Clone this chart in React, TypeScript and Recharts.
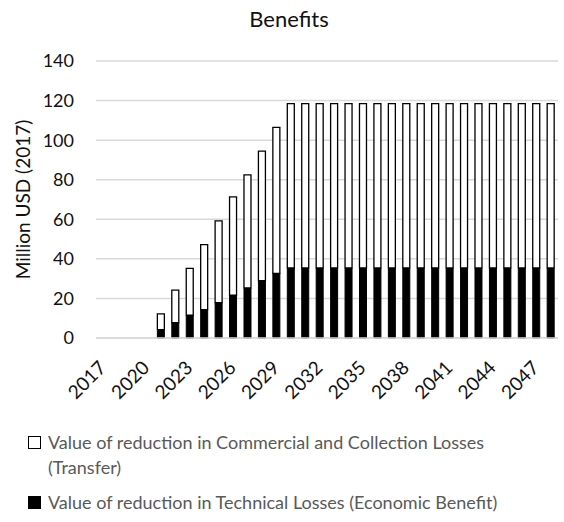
import React from "react";
import { BarChart, Bar, XAxis, YAxis, CartesianGrid } from "recharts";

// Yearly benefit series, million USD (2017)
const years = [
  "2017", "2018", "2019", "2020", "2021", "2022", "2023", "2024",
  "2025", "2026", "2027", "2028", "2029", "2030", "2031", "2032",
  "2033", "2034", "2035", "2036", "2037", "2038", "2039", "2040",
  "2041", "2042", "2043", "2044", "2045", "2046", "2047", "2048",
];

const technical = [
  0, 0, 0, 0, 4.2, 7.8, 11.6, 14.3,
  17.9, 21.6, 25.3, 29.0, 32.7, 35.4, 35.4, 35.4,
  35.4, 35.4, 35.4, 35.4, 35.4, 35.4, 35.4, 35.4,
  35.4, 35.4, 35.4, 35.4, 35.4, 35.4, 35.4, 35.4,
];

const commercial = [
  0, 0, 0, 0, 8.0, 16.4, 23.6, 32.9,
  41.3, 49.7, 57.1, 65.5, 73.8, 83.1, 83.1, 83.1,
  83.1, 83.1, 83.1, 83.1, 83.1, 83.1, 83.1, 83.1,
  83.1, 83.1, 83.1, 83.1, 83.1, 83.1, 83.1, 83.1,
];

const yTicks = [0, 20, 40, 60, 80, 100, 120, 140];

const FONT = "Lato, 'Open Sans', sans-serif";

const chartData = years.map((year, i) => ({
  year,
  technical: technical[i],
  commercial: commercial[i],
}));

// rotated year labels, anchored at their end below each tick
function YearTick({ x, y, payload }: any) {
  const tx = x + 4;
  const ty = y + 31;
  return (
    <text
      x={tx}
      y={ty}
      textAnchor="end"
      transform={`rotate(-45, ${tx}, ${ty})`}
      fontSize={19}
      fontFamily={FONT}
      fill="#111"
    >
      {payload.value}
    </text>
  );
}

function LegendItem({ filled, children }: { filled: boolean; children: React.ReactNode }) {
  return (
    <div style={{ display: "flex", alignItems: "flex-start" }}>
      <span
        style={{
          width: 13,
          height: 13,
          marginTop: 6,
          marginRight: 7,
          flex: "none",
          boxSizing: "border-box",
          border: "1.5px solid #000",
          background: filled ? "#000" : "#fff",
        }}
      />
      <span>{children}</span>
    </div>
  );
}

export default function App() {
  return (
    <div
      style={{
        position: "absolute",
        left: 0,
        top: 0,
        width: 564,
        height: 522,
        background: "#fff",
        fontFamily: FONT,
      }}
    >
      <div
        style={{
          position: "absolute",
          top: 6,
          left: 0,
          width: 578,
          textAlign: "center",
          fontSize: 22,
          lineHeight: "26px",
          color: "#111",
        }}
      >
        Benefits
      </div>

      <BarChart
        width={564}
        height={522}
        data={chartData}
        margin={{ top: 61, right: 6, left: 0, bottom: 154 }}
        barCategoryGap="25%"
      >
        <CartesianGrid vertical={false} stroke="#d9d9d9" strokeWidth={1.5} />
        <XAxis
          dataKey="year"
          height={30}
          interval={2}
          tickLine={false}
          tickSize={0}
          tickMargin={0}
          axisLine={{ stroke: "#d9d9d9", strokeWidth: 1.5 }}
          tick={<YearTick />}
        />
        <YAxis
          width={96}
          domain={[0, 140]}
          ticks={yTicks}
          axisLine={false}
          tickLine={false}
          tickMargin={16}
          tick={{ fontSize: 18, fontFamily: FONT, fill: "#111" }}
          label={{
            value: "Million USD (2017)",
            angle: -90,
            position: "insideLeft",
            offset: 23,
            style: { fontSize: 19, fontFamily: FONT, fill: "#111", textAnchor: "middle" },
          }}
        />
        <Bar
          dataKey="technical"
          stackId="benefit"
          fill="#000"
          stroke="#000"
          strokeWidth={1}
          isAnimationActive={false}
        />
        <Bar
          dataKey="commercial"
          stackId="benefit"
          fill="#fff"
          stroke="#000"
          strokeWidth={1.3}
          isAnimationActive={false}
        />
      </BarChart>

      <div
        style={{
          position: "absolute",
          left: 28,
          top: 430,
          width: 530,
          fontSize: 18,
          lineHeight: "25px",
          color: "#595959",
        }}
      >
        <LegendItem filled={false}>
          Value of reduction in Commercial and Collection Losses
          <br />
          (Transfer)
        </LegendItem>
        <div style={{ height: 10 }} />
        <LegendItem filled>
          Value of reduction in Technical Losses (Economic Benefit)
        </LegendItem>
      </div>
    </div>
  );
}
